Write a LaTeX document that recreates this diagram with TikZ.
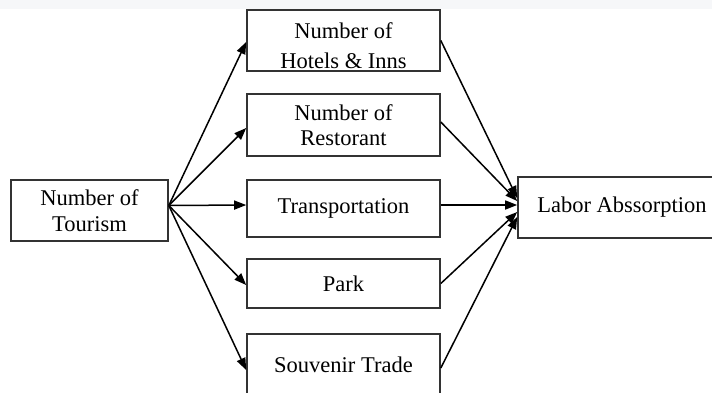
\documentclass[tikz,border=0pt]{standalone}
\usepackage{fontspec}
\setmainfont{Liberation Serif}
\usetikzlibrary{positioning, arrows.meta}
\definecolor{bandgray}{HTML}{F6F7F9}
\definecolor{edgegray}{HTML}{333333}

\begin{document}
\begin{tikzpicture}[x=1pt, y=-1pt, node distance=23pt,
    box/.style={rectangle, draw=edgegray, line width=1.6pt, align=center, inner sep=0pt,
      font=\fontsize{22.5}{25.5}\selectfont},
    arrow/.style={-{Triangle[length=12pt, width=9pt]}, line width=1.5pt}]
    \useasboundingbox (0,0) rectangle (712,392);
    \clip (0,0) rectangle (712,392);
    \fill[bandgray] (0,0) rectangle (712,9);
    \node[box, minimum width=157pt, minimum height=61pt] (tourism) at (89.5,210.5) {Number of\\Tourism};
    \node[box, minimum width=193pt, minimum height=61pt] (hotels) at (343.5,40.5) {};
    \node[align=center, font=\fontsize{22.5}{25.5}\selectfont] (hotelstext) at ([yshift=-5pt]hotels.center) {Number of\\[5pt]Hotels \& Inns};
    \node[box, minimum width=193pt, minimum height=62pt] (rest) [below=21.4pt of hotels] {Number of\\Restorant};
    \node[box, minimum width=193pt, minimum height=57pt] (trans) [below=22.4pt of rest] {Transportation};
    \node[box, minimum width=193pt, minimum height=49pt] (park) [below=20.4pt of trans] {Park};
    \node[box, minimum width=193pt, minimum height=62pt] (souvenir) [below=24.4pt of park] {Souvenir Trade};
    \node[box, minimum width=208pt, minimum height=61pt] (absorb) at (622,207.5) {Labor Abssorption};
    \path[arrow]
      ([yshift=5pt]tourism.east) edge ([yshift=-1.5pt]hotels.west)
      ([yshift=5pt]tourism.east) edge ([yshift=-3pt]rest.west)
      ([yshift=5pt]tourism.east) edge ([yshift=3.5pt]trans.west)
      ([yshift=5pt]tourism.east) edge ([yshift=-1.5pt]park.west)
      ([yshift=5pt]tourism.east) edge ([yshift=-5pt]souvenir.west);
    \path[arrow]
      (hotels.east) edge ([yshift=9.5pt]absorb.west)
      ([yshift=3pt]rest.east) edge ([yshift=6.5pt]absorb.west)
      ([yshift=3.5pt]trans.east) edge ([yshift=2.5pt]absorb.west)
      (park.east) edge ([yshift=-4.5pt]absorb.west)
      ([yshift=-3pt]souvenir.east) edge ([yshift=-9.5pt]absorb.west);
\end{tikzpicture}
\end{document}
